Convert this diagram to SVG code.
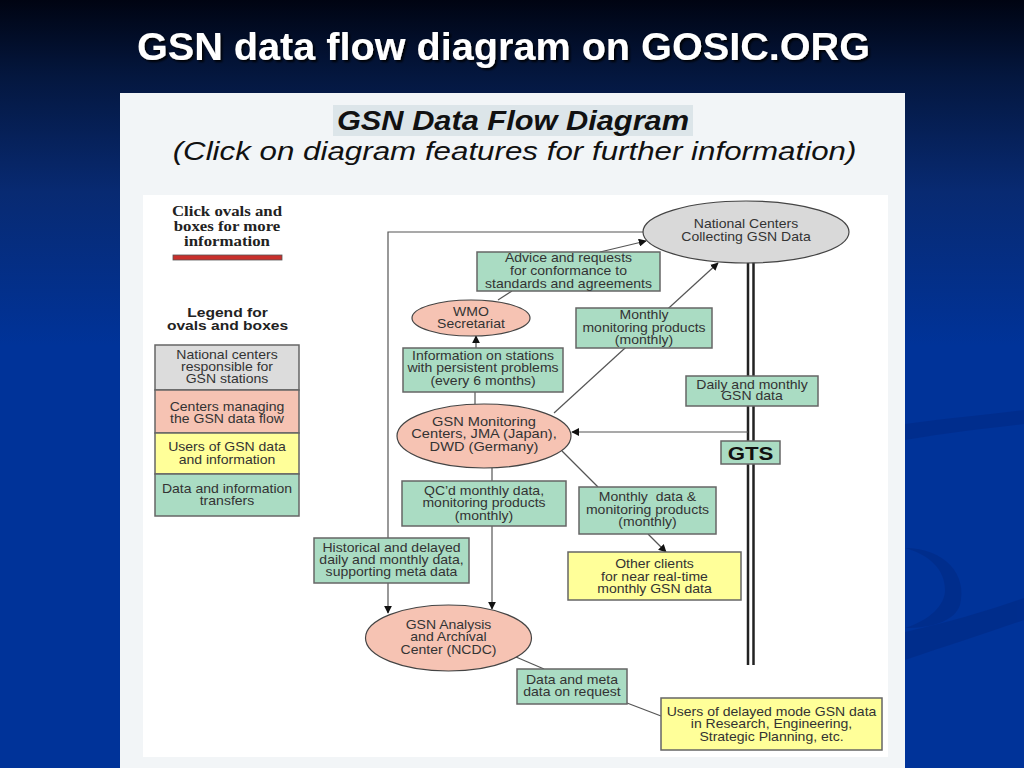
<svg xmlns="http://www.w3.org/2000/svg" width="1024" height="768" viewBox="0 0 1024 768">
<defs>
<linearGradient id="bg" x1="0" y1="0" x2="0" y2="1">
<stop offset="0" stop-color="#000412"/>
<stop offset="0.1" stop-color="#04173f"/>
<stop offset="0.25" stop-color="#082a72"/>
<stop offset="0.45" stop-color="#003399"/>
<stop offset="1" stop-color="#003399"/>
</linearGradient>
<marker id="ah" viewBox="0 0 10 10" refX="9" refY="5" markerWidth="8" markerHeight="8" markerUnits="userSpaceOnUse" orient="auto">
<path d="M0,0 L10,5 L0,10 z" fill="#111"/>
</marker>
<filter id="sh" x="-5%" y="-20%" width="110%" height="140%">
<feDropShadow dx="2" dy="2" stdDeviation="0.8" flood-color="#000" flood-opacity="0.9"/>
</filter>
</defs>
<style>
.t{font-family:"Liberation Sans",Arial,sans-serif;font-size:12px;fill:#333;text-anchor:middle}
.box{stroke:#666;stroke-width:1.5}
.g{fill:#aadcc3}
.y{fill:#ffff99}
.s{fill:#f6c3b3}
.gr{fill:#dcdcdc}
.ov{stroke:#444;stroke-width:1.2}
.ln{stroke:#555;stroke-width:1.2;fill:none}
.ar{stroke:#555;stroke-width:1.2;fill:none;marker-end:url(#ah)}
</style>
<rect width="1024" height="768" fill="url(#bg)"/>
<g fill="#002a85" opacity="0.6">
<path d="M905,424 C950,418 990,414 1024,410 L1024,424 C990,428 950,432 905,440 z"/>
<path d="M905,548 C945,548 968,575 960,605 C955,620 935,628 905,628 C930,620 945,605 945,590 C945,570 930,555 905,548 z"/>
<path d="M905,632 C950,622 990,610 1024,598 L1024,620 C990,632 950,645 905,660 z"/>
</g>
<text x="503.5" y="60" textLength="733" lengthAdjust="spacingAndGlyphs" filter="url(#sh)" style="font-family:'Liberation Sans',Arial,sans-serif;font-size:39px;font-weight:bold;fill:#fff;text-anchor:middle">GSN data flow diagram on GOSIC.ORG</text>
<rect x="120" y="93" width="785" height="675" fill="#f2f5f7"/>
<rect x="143" y="195" width="745" height="562" fill="#ffffff"/>
<rect x="333" y="105" width="360" height="31" fill="#dce5e9"/>
<text transform="translate(513,130) scale(1.14,1)" style="font-family:'Liberation Sans',Arial,sans-serif;font-size:27px;font-weight:bold;font-style:italic;fill:#111;text-anchor:middle">GSN Data Flow Diagram</text>
<text transform="translate(514.5,160) scale(1.205,1)" style="font-family:'Liberation Sans',Arial,sans-serif;font-size:26px;font-style:italic;fill:#111;text-anchor:middle">(Click on diagram features for further information)</text>

<g id="legend">
<text transform="translate(227,216) scale(1.2,1)" style="font-family:'Liberation Serif','Times New Roman',serif;font-size:14px;font-weight:bold;fill:#222;text-anchor:middle"><tspan x="0">Click ovals and</tspan><tspan x="0" dy="14.8">boxes for more</tspan><tspan x="0" dy="14.8">information</tspan></text>
<rect x="173" y="255" width="109" height="5" fill="#c8302c" stroke="#555" stroke-width="0.8"/>
<text transform="translate(227.5,316.5) scale(1.2,1)" style="font-family:'Liberation Sans',Arial,sans-serif;font-size:13px;font-weight:bold;fill:#222;text-anchor:middle"><tspan x="0">Legend for</tspan><tspan x="0" dy="13.5">ovals and boxes</tspan></text>
<rect class="box gr" x="155" y="345" width="144" height="45"/>
<rect class="box s" x="155" y="390" width="144" height="43"/>
<rect class="box y" x="155" y="433" width="144" height="41"/>
<rect class="box g" x="155" y="474" width="144" height="42"/>
<text class="t" transform="translate(227,358.5) scale(1.17,1)"><tspan x="0">National centers</tspan><tspan x="0" dy="12.5">responsible for</tspan><tspan x="0" dy="12.5">GSN stations</tspan></text>
<text class="t" transform="translate(227,411) scale(1.17,1)"><tspan x="0">Centers managing</tspan><tspan x="0" dy="12.5">the GSN data flow</tspan></text>
<text class="t" transform="translate(227,451) scale(1.17,1)"><tspan x="0">Users of GSN data</tspan><tspan x="0" dy="13">and information</tspan></text>
<text class="t" transform="translate(227,492.5) scale(1.17,1)"><tspan x="0">Data and information</tspan><tspan x="0" dy="12.5">transfers</tspan></text>
</g>

<g id="connectors">
<line x1="748" y1="262" x2="748" y2="665" stroke="#222" stroke-width="2.5"/>
<line x1="753.5" y1="262" x2="753.5" y2="665" stroke="#222" stroke-width="2.5"/>
<polyline class="ar" points="645,232 388,232 388,613"/>
<line class="ar" x1="600" y1="252" x2="646" y2="241"/>
<line class="ln" x1="498" y1="300" x2="512" y2="291"/>
<line class="ar" x1="476" y1="348" x2="476" y2="336"/>
<line class="ln" x1="475" y1="392" x2="475" y2="404"/>
<line class="ar" x1="554" y1="413" x2="718" y2="263"/>
<line class="ar" x1="748" y1="432" x2="572" y2="432"/>
<line class="ln" x1="492" y1="468" x2="492" y2="481"/>
<line class="ar" x1="492" y1="526" x2="492" y2="609"/>
<line class="ln" x1="562" y1="451" x2="598" y2="487"/>
<line class="ar" x1="648" y1="534" x2="666" y2="552"/>
<line class="ln" x1="516" y1="657" x2="544" y2="669"/>
<line class="ln" x1="627" y1="703" x2="661" y2="716"/>
</g>

<g id="national-centers">
<ellipse class="ov" cx="746" cy="232" rx="103" ry="31" fill="#d9d9d9"/>
<text class="t" transform="translate(746,228) scale(1.17,1)"><tspan x="0">National Centers</tspan><tspan x="0" dy="13.5">Collecting GSN Data</tspan></text>
</g>
<g id="advice">
<rect class="box g" x="477" y="252" width="183" height="39"/>
<text class="t" transform="translate(568.5,262) scale(1.17,1)"><tspan x="0">Advice and requests</tspan><tspan x="0" dy="13">for conformance to</tspan><tspan x="0" dy="13">standards and agreements</tspan></text>
</g>
<g id="wmo">
<ellipse class="ov" cx="471" cy="318" rx="59" ry="18" fill="#f6c3b3"/>
<text class="t" transform="translate(471,315.5) scale(1.17,1)"><tspan x="0">WMO</tspan><tspan x="0" dy="12.5">Secretariat</tspan></text>
</g>
<g id="info-stations">
<rect class="box g" x="403" y="348" width="160" height="44"/>
<text class="t" transform="translate(483,359.5) scale(1.17,1)"><tspan x="0">Information on stations</tspan><tspan x="0" dy="13">with persistent problems</tspan><tspan x="0" dy="12.5">(every 6 months)</tspan></text>
</g>
<g id="monthly-monitoring">
<rect class="box g" x="576" y="308" width="136" height="40"/>
<text class="t" transform="translate(644,319) scale(1.17,1)"><tspan x="0">Monthly</tspan><tspan x="0" dy="13">monitoring products</tspan><tspan x="0" dy="12.5">(monthly)</tspan></text>
</g>
<g id="daily-monthly">
<rect class="box g" x="686" y="376" width="132" height="30"/>
<text class="t" transform="translate(752,388.5) scale(1.17,1)"><tspan x="0">Daily and monthly</tspan><tspan x="0" dy="12">GSN data</tspan></text>
</g>
<g id="monitoring-centers">
<ellipse class="ov" cx="484" cy="436" rx="87" ry="32" fill="#f6c3b3"/>
<text class="t" transform="translate(484,425.5) scale(1.17,1)" style="font-size:12.5px"><tspan x="0">GSN Monitoring</tspan><tspan x="0" dy="13">Centers, JMA (Japan),</tspan><tspan x="0" dy="13">DWD (Germany)</tspan></text>
</g>
<g id="gts">
<rect class="box g" x="721" y="441" width="59" height="23"/>
<text transform="translate(750.5,459.5) scale(1.17,1)" style="font-family:'Liberation Sans',Arial,sans-serif;font-size:19px;font-weight:bold;fill:#111;text-anchor:middle">GTS</text>
</g>
<g id="qc-monthly">
<rect class="box g" x="402" y="481" width="164" height="45"/>
<text class="t" transform="translate(484,494.5) scale(1.17,1)"><tspan x="0">QC’d monthly data,</tspan><tspan x="0" dy="13">monitoring products</tspan><tspan x="0" dy="12.5">(monthly)</tspan></text>
</g>
<g id="monthly-data">
<rect class="box g" x="579" y="487" width="137" height="47"/>
<text class="t" transform="translate(647.5,501) scale(1.17,1)" style="white-space:pre"><tspan x="0">Monthly  data &amp;</tspan><tspan x="0" dy="13">monitoring products</tspan><tspan x="0" dy="12.5">(monthly)</tspan></text>
</g>
<g id="other-clients">
<rect class="box y" x="568" y="552" width="173" height="48"/>
<text class="t" transform="translate(654.5,568) scale(1.17,1)"><tspan x="0">Other clients</tspan><tspan x="0" dy="13">for near real-time</tspan><tspan x="0" dy="12.5">monthly GSN data</tspan></text>
</g>
<g id="historical">
<rect class="box g" x="314" y="538" width="155" height="45"/>
<text class="t" transform="translate(391.5,551.5) scale(1.17,1)"><tspan x="0">Historical and delayed</tspan><tspan x="0" dy="12.5">daily and monthly data,</tspan><tspan x="0" dy="12.5">supporting meta data</tspan></text>
</g>
<g id="analysis-center">
<ellipse class="ov" cx="448.5" cy="638" rx="83" ry="33" fill="#f6c3b3"/>
<text class="t" transform="translate(448.5,628.5) scale(1.17,1)"><tspan x="0">GSN Analysis</tspan><tspan x="0" dy="13">and Archival</tspan><tspan x="0" dy="13">Center (NCDC)</tspan></text>
</g>
<g id="data-meta">
<rect class="box g" x="517" y="669" width="110" height="35"/>
<text class="t" transform="translate(572,683.5) scale(1.17,1)"><tspan x="0">Data and meta</tspan><tspan x="0" dy="12.5">data on request</tspan></text>
</g>
<g id="users-delayed">
<rect class="box y" x="661" y="698" width="221" height="52"/>
<text class="t" transform="translate(771.5,716) scale(1.17,1)"><tspan x="0">Users of delayed mode GSN data</tspan><tspan x="0" dy="12.5">in Research, Engineering,</tspan><tspan x="0" dy="12.5">Strategic Planning, etc.</tspan></text>
</g>
</svg>
